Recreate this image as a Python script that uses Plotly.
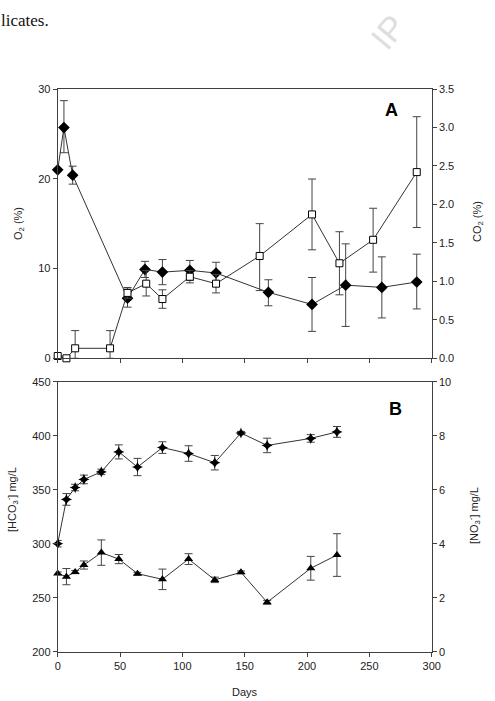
import plotly.graph_objects as go

W, H = 495, 701

# ---------------- data ----------------
# Panel A
days_o2 = [0, 5, 12, 56, 70, 84, 106, 127, 169, 204, 231, 260, 288]
o2 = [21.0, 25.7, 20.4, 6.7, 9.9, 9.6, 9.8, 9.5, 7.35, 6.0, 8.15, 7.9, 8.5]
o2_err_plus = [0.0, 3.0, 1.0, 1.0, 0.9, 1.4, 1.1, 1.2, 1.4, 3.0, 4.6, 3.4, 3.1]
o2_err_minus = [0.0, 2.8, 1.0, 1.0, 0.9, 1.4, 1.1, 1.2, 1.5, 3.0, 4.6, 3.4, 3.0]

days_co2 = [0, 7, 14, 42, 56, 71, 84, 106, 127, 162, 204, 226, 253, 288]
co2 = [0.03, 0.0, 0.13, 0.13, 0.85, 0.97, 0.77, 1.06, 0.97, 1.33, 1.87, 1.235, 1.54, 2.42]
co2_err_plus = [0.0, 0.0, 0.23, 0.23, 0.07, 0.17, 0.12, 0.08, 0.12, 0.42, 0.46, 0.41, 0.41, 0.72]
co2_err_minus = [0.0, 0.0, 0.13, 0.13, 0.07, 0.16, 0.12, 0.08, 0.12, 0.45, 0.46, 0.41, 0.42, 0.72]

# Panel B
days_b = [0, 7, 14, 21, 35, 49, 64, 84, 105, 126, 147, 168, 203, 224]
hco3 = [300, 341, 352, 359.5, 366.5, 385, 371, 389, 383.5, 375, 402.5, 391, 397.5, 403.5]
hco3_err = [3, 5.4, 3, 4, 2.5, 6.5, 8, 5.4, 7.2, 6.7, 1.5, 6.7, 3.5, 5]
no3 = [2.9, 2.78, 2.95, 3.21, 3.67, 3.43, 2.89, 2.68, 3.43, 2.66, 2.94, 1.83, 3.09, 3.58]
no3_err = [0.05, 0.3, 0.06, 0.15, 0.47, 0.17, 0.05, 0.38, 0.2, 0.1, 0.05, 0.07, 0.44, 0.79]

x_ticks = [0, 50, 100, 150, 200, 250, 300]

# ---------------- styling ----------------
FONT = "Liberation Sans, Arial, sans-serif"
AX = "#404040"
LINE = "#333333"
ERR = "#444444"


def px_x(p):
    return p / W


def px_y(p):
    return 1 - p / H


xdom = [px_x(57.7), px_x(431.7)]
domA = [px_y(358.3), px_y(89.0)]
domB = [px_y(651.7), px_y(381.7)]

fig = go.Figure()


def err(plus, minus=None, w=4):
    d = dict(type="data", array=plus, visible=True, color=ERR, thickness=1, width=w)
    if minus is not None:
        d["symmetric"] = False
        d["arrayminus"] = minus
    return d


# Panel A traces
fig.add_trace(go.Scatter(
    x=days_co2, y=co2, xaxis="x2", yaxis="y4", mode="lines+markers",
    line=dict(color=LINE, width=1),
    marker=dict(symbol="square", size=7, color="white", line=dict(color="black", width=1)),
    error_y=err(co2_err_plus, co2_err_minus), cliponaxis=False, showlegend=False))
fig.add_trace(go.Scatter(
    x=days_o2, y=o2, xaxis="x2", yaxis="y3", mode="lines+markers",
    line=dict(color=LINE, width=1),
    marker=dict(symbol="diamond", size=9, color="black"),
    error_y=err(o2_err_plus, o2_err_minus), cliponaxis=False, showlegend=False))

# Panel B traces
fig.add_trace(go.Scatter(
    x=days_b, y=hco3, xaxis="x", yaxis="y", mode="lines+markers",
    line=dict(color=LINE, width=1),
    marker=dict(symbol="star-diamond", size=8, color="black"),
    error_y=err(hco3_err), cliponaxis=False, showlegend=False))
fig.add_trace(go.Scatter(
    x=days_b, y=no3, xaxis="x", yaxis="y2", mode="lines+markers",
    line=dict(color=LINE, width=1),
    marker=dict(symbol="triangle-up", size=8, color="black"),
    error_y=err(no3_err), cliponaxis=False, showlegend=False))

common = dict(showline=True, linecolor=AX, linewidth=1, ticks="outside", ticklen=4,
              tickcolor=AX, tickwidth=1, showgrid=False, zeroline=False,
              automargin=False, tickfont=dict(family=FONT, size=11, color="#222"))

fig.update_layout(
    width=W, height=H, autosize=False,
    margin=dict(l=0, r=0, t=0, b=0),
    paper_bgcolor="white", plot_bgcolor="white",
    font=dict(family=FONT, color="#222"),
    xaxis=dict(domain=xdom, anchor="y", range=[0, 300], tickvals=x_ticks, mirror=True, **common),
    yaxis=dict(domain=domB, anchor="x", range=[200, 450], dtick=50, mirror=True, **common),
    yaxis2=dict(domain=domB, anchor="x", overlaying="y", side="right", range=[0, 10], dtick=2, **common),
    xaxis2=dict(domain=xdom, anchor="y3", range=[0, 300], tickvals=x_ticks, showticklabels=False, mirror=True, **common),
    yaxis3=dict(domain=domA, anchor="x2", range=[0, 30], dtick=10, mirror=True, **common),
    yaxis4=dict(domain=domA, anchor="x2", overlaying="y3", side="right", range=[0, 3.5], dtick=0.5,
                tickformat=".1f", **common),
)

ann = []
def A(x, y, text, size=11, angle=0, family=FONT, color="#222", xanchor="center"):
    ann.append(dict(x=px_x(x), y=px_y(y), xref="paper", yref="paper", text=text, showarrow=False,
                    textangle=angle, xanchor=xanchor, yanchor="middle",
                    font=dict(family=family, size=size, color=color)))

A(19, 224, "O<sub>2</sub> (%)", angle=-90)
A(478, 222, "CO<sub>2</sub> (%)", angle=-90)
A(12, 500, "[HCO<sub>3</sub><sup>-</sup>] mg/L", angle=-90)
A(474, 516, "[NO<sub>3</sub><sup>-</sup>] mg/L", angle=-90)
A(245, 692, "Days")
A(391, 110, "<b>A</b>", size=18, color="black")
A(395, 409, "<b>B</b>", size=18, color="black")
A(-1, 20, "licates.", size=17, family="Liberation Serif, Times New Roman, serif", color="#111", xanchor="left")
A(388, 32, "IP", size=34, angle=-50, color="#dedede")

fig.update_layout(annotations=ann)

fig.write_html("out.html")
